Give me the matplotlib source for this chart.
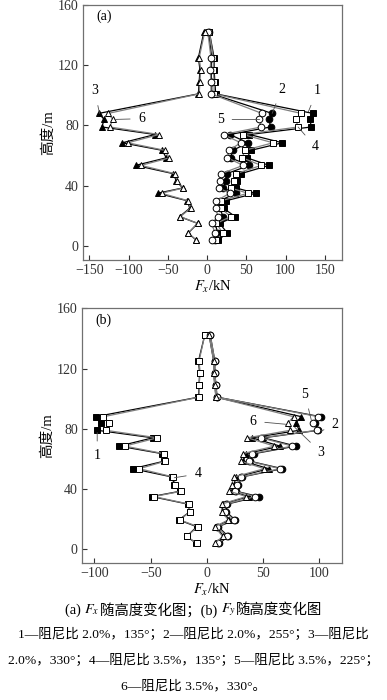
# 风荷载随高度变化图 (a) Fx, (b) Fy
# -*- coding: utf-8 -*-

import matplotlib
matplotlib.use('Agg')
import matplotlib.pyplot as plt

FONTS = ['Liberation Serif', 'Noto Sans CJK SC']
plt.rcParams['font.family'] = FONTS
plt.rcParams['mathtext.fontset'] = 'stix'

# 高度 (m)
heights = [4, 8.5, 15, 19.5, 25, 30, 35, 38.5, 43, 48, 53.5, 58.5, 63.5,
           68.5, 74, 79, 84, 88, 101, 109, 117, 125, 142]

# (a) Fx, kN
fx_1 = [14, 26, 16, 36, 21, 24, 62, 37, 38, 43, 79, 51, 56, 96, 54, 133, 131, 135, 11, 10, 9, 9, 3]
fx_2 = [10, 14, 10, 20, 17, 16, 37, 20, 24, 25, 54, 30, 33, 52, 29, 81, 79, 83, 6, 6, 5, 6, 2]
fx_3 = [-14, -24, -12, -35, -22, -25, -63, -31, -39, -43, -91, -52, -57, -108, -66, -134, -131, -138, -11, -10, -9, -11, -4]
fx_4 = [12, 20, 12, 30, 18, 18, 52, 30, 34, 37, 69, 45, 48, 84, 46, 116, 113, 120, 9, 9, 8, 8, 3]
fx_5 = [6, 10, 6, 14, 11, 12, 29, 15, 17, 18, 46, 26, 28, 43, 21, 69, 66, 70, 5, 5, 4, 5, 1]
fx_6 = [-14, -24, -12, -34, -21, -24, -58, -30, -38, -41, -84, -48, -54, -101, -61, -124, -120, -126, -10, -9, -8, -10, -3]

# (b) Fy, kN
fy_1 = [-9.5, -18, -9, -25, -15, -17, -49, -24, -29, -31, -66, -38, -40, -78, -48, -97.5, -94, -99, -7.5, -7, -6.5, -7.5, -2]
fy_2 = [11, 19, 10, 25, 17, 18, 46, 26, 28, 31, 67, 38, 42, 79, 50, 99, 96, 101, 9, 8, 7, 7, 3]
fy_3 = [8, 15, 8, 20, 14, 14, 37, 22, 24, 26, 55, 32, 35, 65, 40, 82, 79, 84, 8, 7, 6, 6, 2]
fy_4 = [-9, -18, -8, -24, -15, -16, -47, -23, -28, -30, -60, -37, -38.5, -73, -44, -90, -87, -92, -7, -7, -6, -7, -2]
fy_5 = [10, 18, 9, 24, 16, 17, 43, 25, 27, 30, 65, 37, 40, 76, 48, 98, 94, 99, 9, 8, 7, 7, 3]
fy_6 = [7, 14, 7, 19, 13, 13, 35, 20, 22, 24, 51, 30, 32, 60, 36, 74, 72, 77, 8, 7, 6, 6, 2]

# 曲线编号对应的标记
markers = {1: ('s', 'black'), 2: ('o', 'black'), 3: ('^', 'black'),
           4: ('s', 'white'), 5: ('o', 'white'), 6: ('^', 'white')}

captions = [
    '1—阻尼比 2.0%，135°；2—阻尼比 2.0%，255°；3—阻尼比',
    '2.0%，330°；4—阻尼比 3.5%，135°；5—阻尼比 3.5%，225°；',
    '6—阻尼比 3.5%，330°。',
]


def draw_panel(ax, series, xlim, xticks, tag, notes):
    for num, vals in series:
        m, fc = markers[num]
        lc = 'black' if fc == 'black' else '#808080'
        ax.plot(vals, heights, color=lc, lw=0.9, marker=m, ms=4.8,
                mfc=fc, mec='black', mew=0.7, zorder=2 + num * 0.1)
    ax.set_xlim(*xlim)
    ax.set_ylim(-9.3, 160)
    ax.set_xticks(xticks)
    ax.set_yticks([0, 40, 80, 120, 160])
    ax.tick_params(direction='in', length=3.5, width=0.8, labelsize=10,
                   colors='#333333', pad=3)
    for s in ax.spines.values():
        s.set_color('#707070')
        s.set_linewidth(0.9)
    ax.set_ylabel('高度/m', fontsize=10.5, labelpad=2)
    ax.set_xlabel('$F_x$/kN', fontsize=10.5, labelpad=1)
    ax.text(0.05, 0.94, tag, transform=ax.transAxes, fontsize=10)
    for label, xy, xytext in notes:
        ax.annotate(label, xy=xy, xytext=xytext, fontsize=10,
                    ha='center', va='center',
                    arrowprops=dict(arrowstyle='-', color='#505050',
                                    lw=0.6, shrinkA=4, shrinkB=0))


def centered_line(fig, y, pieces, fs):
    # 把几段文字拼成一行并居中
    texts = [fig.text(0, y, s, fontsize=fs, va='center') for s in pieces]
    fig.canvas.draw()
    r = fig.canvas.get_renderer()
    widths = [t.get_window_extent(r).width / fig.bbox.width for t in texts]
    x = 0.5 - sum(widths) / 2
    for t, w in zip(texts, widths):
        t.set_x(x)
        x += w


def main():
    fig = plt.figure(figsize=(3.87, 7.0), dpi=100)

    ax_a = fig.add_axes([0.2145, 0.6286, 0.6693, 0.3643])
    draw_panel(ax_a,
               [(1, fx_1), (2, fx_2), (3, fx_3), (4, fx_4), (5, fx_5), (6, fx_6)],
               (-158, 172), [-150, -100, -50, 0, 50, 100, 150], '(a)',
               [('1', (129, 89), (140, 103)),
                ('2', (83, 88), (95, 104)),
                ('3', (-137, 88), (-143, 103)),
                ('4', (116, 79), (137.5, 66)),
                ('5', (67, 84), (17, 84)),
                ('6', (-118, 84), (-83, 84.5))])

    ax_b = fig.add_axes([0.2119, 0.1953, 0.6718, 0.3643])
    draw_panel(ax_b,
               [(1, fy_1), (2, fy_2), (3, fy_3), (4, fy_4), (5, fy_5), (6, fy_6)],
               (-111, 120), [-100, -50, 0, 50, 100], '(b)',
               [('5', (93, 85), (87, 103)),
                ('6', (70, 83), (41, 85)),
                ('2', (101.6, 78.5), (114, 83)),
                ('3', (78, 81), (101, 64.5)),
                ('1', (-97.5, 77.5), (-97.5, 62)),
                ('4', (-29, 47.5), (-8, 50))])

    centered_line(fig, 1 - 610 / 700,
                  ['(a) ', '$F_x$', '随高度变化图；(b) ', '$F_y$', '随高度变化图'], 10.4)
    for i, line in enumerate(captions):
        fig.text(0.5, 1 - (635 + 25.5 * i) / 700, line, fontsize=9.7,
                 ha='center', va='center')

    fig.savefig('out.png', dpi=100)


if __name__ == '__main__':
    main()
